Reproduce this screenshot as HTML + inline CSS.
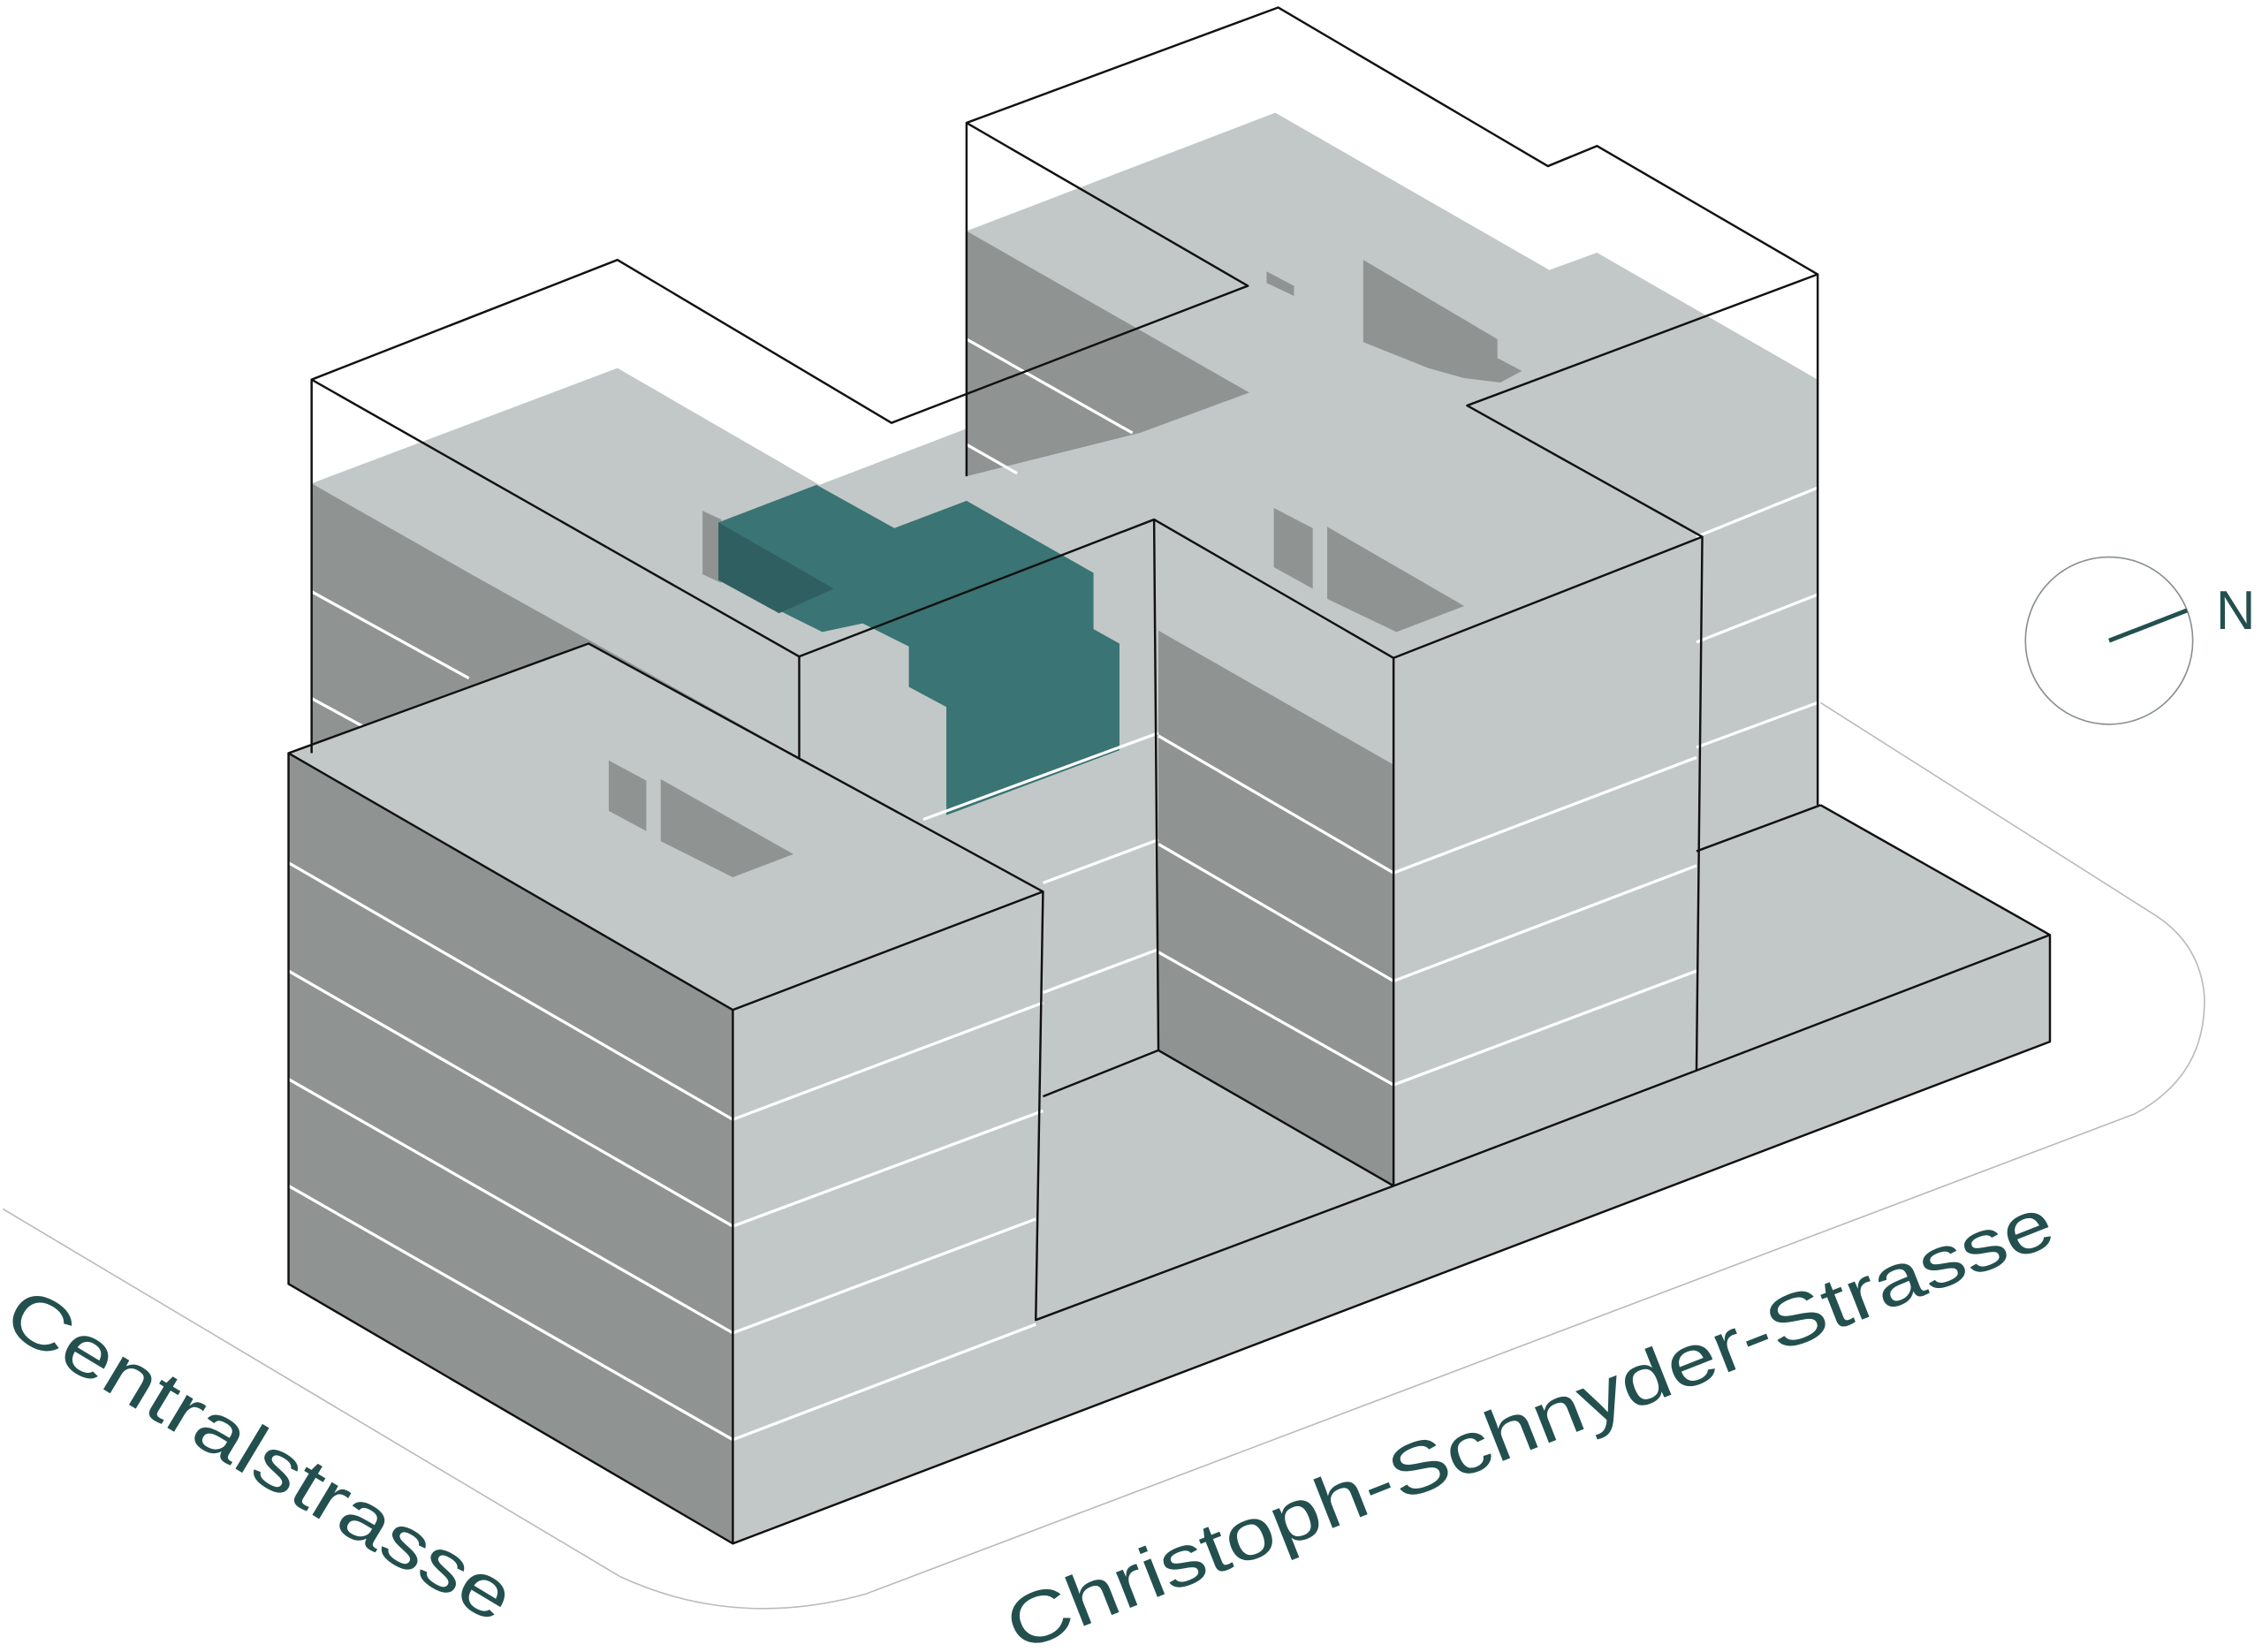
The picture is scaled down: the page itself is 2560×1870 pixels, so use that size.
<!DOCTYPE html>
<html><head><meta charset="utf-8"><style>
html,body{margin:0;padding:0;background:#fff}
svg{display:block}
</style></head><body>
<svg width="2560" height="1870" viewBox="0 0 1568 1145" xmlns="http://www.w3.org/2000/svg">
<rect width="1568" height="1145" fill="#fff"/>
<path d="M2,838 L430,1093 Q510,1130 600,1105 L1480,772 Q1530,745 1528,690 Q1525,655 1495,635 L1262,487" fill="none" stroke="#b8bcbb" stroke-width="1"/>
<polygon points="216,335 428,255 568,336 670,297 670,160 884,78 1074,187 1107,175 1260,263 1260,558 1176,590 1176,742 966,822 803,728 723,760 723,618 408,446 216,522" fill="#c2c8c7"/>
<polygon points="216,335 325,397 554,525 554,540 430,470 216,522" fill="#8f9493"/>
<polygon points="670,160 866,272 790,300 670,330" fill="#8f9493"/>
<polygon points="803,437 966,530 966,822 803,728" fill="#8f9493"/>
<polygon points="945,180 1038,235 1038,248 1055,257 1040,265 1015,262 990,255 945,237" fill="#8f9493"/>
<polygon points="920,365 1015,420 968,438 920,415" fill="#8f9493"/>
<polygon points="883,352 910,366 910,408 883,393" fill="#8f9493"/>
<polygon points="878,188 897,198 897,205 878,196" fill="#8f9493"/>
<polygon points="487,354 500,360 500,404 487,398" fill="#8f9493"/>
<polygon points="498,362 566,336 620,366 670,347 758,397 758,436 776,446 776,520 656,565 656,490 630,476 630,448 598,432 570,438 498,402" fill="#3a7474"/>
<polygon points="498,362 578,408 540,425 498,402" fill="#2f5f60"/>
<g stroke="#fff" stroke-width="2" fill="none">
<line x1="216" y1="410" x2="325" y2="470"/>
<line x1="216" y1="484" x2="260" y2="508"/>
<line x1="670" y1="235" x2="785" y2="300"/>
<line x1="670" y1="308" x2="705" y2="328"/>
<line x1="803" y1="510" x2="966" y2="605"/>
<line x1="803" y1="585" x2="966" y2="680"/>
<line x1="803" y1="660" x2="966" y2="752"/>
<line x1="966" y1="605" x2="1176" y2="525"/>
<line x1="966" y1="680" x2="1176" y2="600"/>
<line x1="966" y1="752" x2="1176" y2="673"/>
<line x1="1176" y1="445" x2="1260" y2="412"/>
<line x1="1176" y1="518" x2="1260" y2="487"/>
<line x1="1176" y1="372" x2="1260" y2="338"/>
<line x1="723" y1="612" x2="803" y2="582"/>
<line x1="723" y1="688" x2="803" y2="658"/>
<line x1="640" y1="568" x2="803" y2="508"/>
</g>
<polygon points="200,522 508,700 508,1070 200,890" fill="#8f9493"/>
<polygon points="508,700 723,618 723,760 803,728 966,822 1176,742 1176,590 1262,558 1421,648 1421,722 508,1070" fill="#c2c8c7"/>
<polygon points="200,522 408,446 723,618 508,700" fill="#c2c8c7"/>
<polygon points="458,540 550,592 508,608 458,583" fill="#8f9493"/>
<polygon points="422,527 448,541 448,576 422,562" fill="#8f9493"/>
<g stroke="#fff" stroke-width="2" fill="none">
<line x1="200" y1="598" x2="508" y2="776"/>
<line x1="200" y1="673" x2="508" y2="850"/>
<line x1="200" y1="748" x2="508" y2="924"/>
<line x1="200" y1="822" x2="508" y2="998"/>
<line x1="508" y1="776" x2="723" y2="695"/>
<line x1="508" y1="850" x2="723" y2="770"/>
<line x1="508" y1="924" x2="718" y2="845"/>
<line x1="508" y1="998" x2="718" y2="918"/>
</g>
<g stroke="#111" stroke-width="1.5" fill="none" stroke-linejoin="round">
<polyline points="216,522 216,263 428,180 618,293 865,198 670,85 886,5 1073,115 1107,101 1260,190 1260,558"/>
<line x1="670" y1="85" x2="670" y2="330"/>
<polyline points="216,263 554,455 554,525"/>
<polyline points="554,455 800,360 966,456 966,822"/>
<line x1="800" y1="360" x2="803" y2="728"/>
<polyline points="966,456 1180,372 1176,742"/>
<polyline points="1180,372 1017,281 1260,190"/>
<polygon points="200,522 408,446 723,618 508,700"/>
<polyline points="200,522 200,890 508,1070 508,700"/>
<polyline points="723,618 718,915 966,822 1176,742 1421,648"/>
<polyline points="508,1070 1421,722 1421,648 1262,558"/>
<polyline points="723,760 803,728 966,822"/>
<line x1="1176" y1="590" x2="1262" y2="558"/>
</g>
<circle cx="1462" cy="444" r="58" fill="none" stroke="#8a9090" stroke-width="1"/>
<line x1="1462" y1="444" x2="1516" y2="423" stroke="#23504e" stroke-width="3"/>
<text x="1536" y="436" font-family="Liberation Sans, sans-serif" font-size="38" fill="#23504e">N</text>
<text transform="translate(0,920) rotate(31)" font-family="Liberation Sans, sans-serif" font-size="50" fill="#23504e" textLength="400" lengthAdjust="spacingAndGlyphs">Centralstrasse</text>
<text transform="translate(706,1145) rotate(-21.5)" font-family="Liberation Sans, sans-serif" font-size="50" fill="#23504e" textLength="775" lengthAdjust="spacingAndGlyphs">Christoph-Schnyder-Strasse</text>
</svg>
</body></html>
